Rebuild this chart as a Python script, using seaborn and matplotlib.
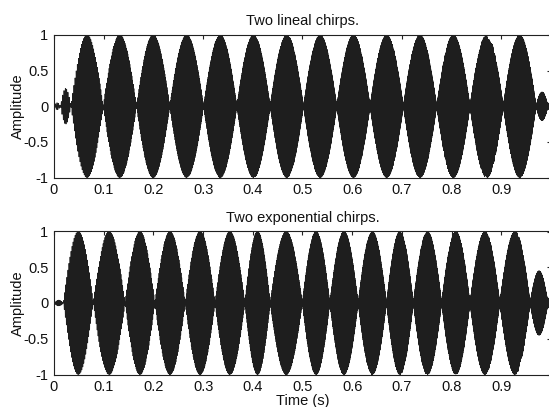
import numpy as np
import pandas as pd
import matplotlib
matplotlib.use("Agg")
import matplotlib.pyplot as plt
import seaborn as sns

# ---- values ----
# envelope lobes (null-to-null boundaries, seconds) and lobe peak amplitudes
lin_nulls = [0.0, 0.013, 0.034, 0.099, 0.166, 0.233, 0.301, 0.368, 0.435, 0.502,
             0.569, 0.636, 0.703, 0.770, 0.837, 0.904, 0.970, 0.994, 1.0]
lin_amps = [0.05, 0.25, 1, 1, 1, 1, 1, 1, 1, 1, 1, 1, 1, 1, 1, 1, 0.2, 0.05]

exp_nulls = [0.0, 0.019, 0.079, 0.143, 0.203, 0.264, 0.324, 0.384, 0.435, 0.4996,
             0.555, 0.612, 0.669, 0.723, 0.780, 0.837, 0.897, 0.958, 0.994, 1.0]
exp_amps = [0.04, 1, 1, 1, 1, 1, 1, 1, 1, 1, 1, 1, 1, 1, 1, 1, 1, 0.45, 0.08]

# carrier chirp parameters (Hz) and sampling
lin_f = [320.0, 3000.0]     # start / end frequency, linear sweep
exp_f = [450.0, 3000.0]     # start / end frequency, exponential sweep
n_samples = 24000

titles = ["Two lineal chirps.", "Two exponential chirps."]
x_ticks = [0, 0.1, 0.2, 0.3, 0.4, 0.5, 0.6, 0.7, 0.8, 0.9]
x_ticklabels = ["0", "0.1", "0.2", "0.3", "0.4", "0.5", "0.6", "0.7", "0.8", "0.9"]
y_ticks = [-1, -0.5, 0, 0.5, 1]
y_ticklabels = ["-1", "-0.5", "0", "0.5", "1"]


def envelope(t, nulls, amps):
    env = np.zeros_like(t)
    for a, b, amp in zip(nulls[:-1], nulls[1:], amps):
        m = (t >= a) & (t < b)
        env[m] = amp * np.sin(np.pi * (t[m] - a) / (b - a))
    return env


t = np.linspace(0, 1, n_samples, endpoint=False)
phase_lin = 2 * np.pi * (lin_f[0] * t + 0.5 * (lin_f[1] - lin_f[0]) * t ** 2)
k = exp_f[1] / exp_f[0]
phase_exp = 2 * np.pi * exp_f[0] * (k ** t - 1) / np.log(k)

s_lin = envelope(t, lin_nulls, lin_amps) * np.cos(phase_lin)
s_exp = envelope(t, exp_nulls, exp_amps) * np.cos(phase_exp)

df_lin = pd.DataFrame({"t": t, "s": s_lin})
df_exp = pd.DataFrame({"t": t, "s": s_exp})

sns.set_theme(style="white")
plt.rcParams["font.family"] = ["Liberation Sans", "DejaVu Sans"]

W, H = 549, 407
fig = plt.figure(figsize=(W / 100, H / 100), dpi=100)
left = 54 / W
width = (551 - 54) / W
ax1 = fig.add_axes([left, 1 - 177.5 / H, width, (177.5 - 35) / H])
ax2 = fig.add_axes([left, 1 - 374.5 / H, width, (374.5 - 231.5) / H])

for ax, df, title in [(ax1, df_lin, titles[0]), (ax2, df_exp, titles[1])]:
    sns.lineplot(data=df, x="t", y="s", ax=ax, color="#1e1e1e", linewidth=0.6,
                 estimator=None, sort=False)
    ax.set_xlim(0, 1)
    ax.set_ylim(-1, 1)
    ax.set_xticks(x_ticks)
    ax.set_xticklabels(x_ticklabels)
    ax.set_yticks(y_ticks)
    ax.set_yticklabels(y_ticklabels)
    ax.tick_params(direction="in", length=3, width=0.8, color="#222222",
                   top=True, right=True, labelsize=10.5, pad=4,
                   labelcolor="#111111")
    for sp in ax.spines.values():
        sp.set_color("#222222")
        sp.set_linewidth(0.8)
    ax.set_title(title, fontsize=10.5, pad=7, color="#111111")
    ax.set_ylabel("Amplitude", fontsize=10.5, labelpad=-1, color="#111111")
    ax.set_xlabel("")

ax2.set_xlabel("Time (s)", fontsize=10.5, labelpad=0, color="#111111")

fig.savefig("out.png", dpi=100)
